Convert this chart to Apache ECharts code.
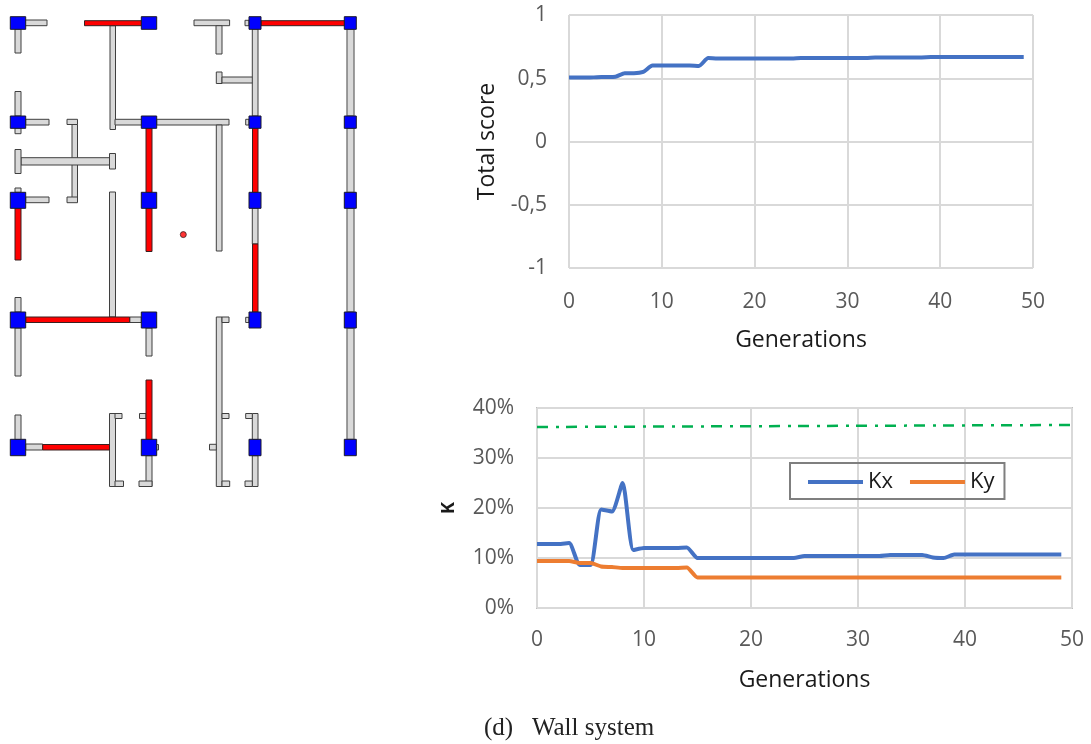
<!DOCTYPE html>
<html><head><meta charset="utf-8">
<style>html,body{margin:0;padding:0;background:#fff}#c{width:1091px;height:744px}</style>
<script src="https://cdn.jsdelivr.net/npm/echarts@6/dist/echarts.min.js"></script>
</head><body><div id="c"></div>
<script>
// Plan drawing: rectangles as [x0, y0, x1, y1] in plan units
const grayWalls = [
[25,20,47,25.7],[15,29,21,53],[110,25.7,115.5,129.5],[194,20,229.6,25.7],[216,25.7,222,54],
[216.3,72,222,83.5],[222,77,253,83],[15,91.5,21,116],[15,128,21,133.7],[25.7,119.3,49,125],
[67,119.3,77.5,124.5],[72,124.5,77.5,198],[67,197,77.5,202.7],[21,157.7,110,165],[15,149.5,21,173.5],
[109.5,153.5,115.5,169],[15,188,21,192.3],[25.7,197,49,202.7],[115,119.3,142,125],[156.7,119.3,229,125],
[216.3,125,222,251],[109.5,192,115.5,317],[245,20.3,249,25.7],[252.3,29,258,116],[245.7,119.3,249,125],
[252.3,208,258,244],[15,297.5,21,312],[15,328,21,376],[129.7,317,141.3,322.5],[146,328,152,356],
[15,415,21,439.5],[25.7,444,42.7,450],[109.5,413.5,115.5,486.5],[115,413.5,122,418.5],[115,481,123.5,486.5],
[139.5,413.5,146,418.5],[156.7,444.5,158.5,450],[146,455.7,152,486.5],[139,481,152,486.5],[216.3,317,222,486.5],
[222,317,229,322.5],[222,413.5,229,418.5],[209.5,444.3,216.3,450],[222,481,229.7,486.5],[245.7,317.3,249,322.5],
[252.3,413.5,258,439.5],[252.3,455.7,258,486.5],[245.7,413.5,252.3,418.5],[245,481,252.3,486.5]
];
const outerWalls = [[347,29,354,116],[347,128,354,192.5],[347,208,354,312],[347,328,354,439.5]];
const redWalls = [
[84.5,20.7,142,25.7],[15,208,21,260],[146,128,152,192.5],[146,208,152,251.5],[261,20.7,345,25.7],
[252.5,128,258,192.5],[252.5,244,258,312],[25.7,317,129.7,322.5],[146,380,152,439.5],[42.7,444.5,109.5,450]
];
const columnNodes = [
[10.3,16.7,25.7,29.3],[141.3,16.7,156.7,29.3],[249,16.7,261,29.3],[344.3,16.7,356.3,29.3],
[10.3,116,25.7,128.3],[141.3,116,156.7,128.3],[249,116,261,128.3],[344.3,116,356.3,128.3],
[10.3,192.3,25.7,208.3],[141.3,192.3,156.7,208.3],[249,192.3,261,208.3],[344.3,192.3,356.3,208.3],
[10.3,312,25.7,328],[141.3,312,156.7,328],[249,312,261,328],[344.3,312,356.3,328],
[10.3,439.3,25.7,455.7],[141.3,439.3,156.7,455.7],[249,439.3,261,455.7],[344.3,439.3,356.3,455.7]
];
const centerPoint = [[183.3,234.6]];

// Total score panel
const generations = [0,1,2,3,4,5,6,7,8,9,10,11,12,13,14,15,16,17,18,19,20,21,22,23,24,25,26,27,28,29,30,31,32,33,34,35,36,37,38,39,40,41,42,43,44,45,46,47,48,49];
const totalScore = [.505,.505,.505,.508,.51,.512,.54,.54,.55,.6,.6,.6,.6,.6,.597,.66,.657,.657,.657,.657,.657,.657,.657,.657,.657,.66,.66,.66,.66,.66,.66,.66,.66,.665,.665,.665,.665,.665,.665,.667,.667,.667,.667,.667,.667,.667,.667,.667,.667,.667];
const scoreTicks = {1:'1',0.5:'0,5',0:'0','-0.5':'-0,5','-1':'-1'};

// K panel (percent)
const kx = [12.8,12.8,12.8,13,8.6,8.6,19.7,19.3,25,11.6,12,12,12,12,12.1,10,10,10,10,10,10,10,10,10,10,10.4,10.4,10.4,10.4,10.4,10.4,10.4,10.4,10.6,10.6,10.6,10.6,10.1,10,10.7,10.7,10.7,10.7,10.7,10.7,10.7,10.7,10.7,10.7,10.7];
const ky = [9.4,9.4,9.4,9.4,9,9,8.3,8.2,8,8,8,8,8,8,8.1,6.1,6.1,6.1,6.1,6.1,6.1,6.1,6.1,6.1,6.1,6.1,6.1,6.1,6.1,6.1,6.1,6.1,6.1,6.1,6.1,6.1,6.1,6.1,6.1,6.1,6.1,6.1,6.1,6.1,6.1,6.1,6.1,6.1,6.1,6.1];
const kLimit = [[0,36.2],[50,36.6]];

const FONT = 'Open Sans';
const TICK = '#595959';
const pair = (xs, ys) => xs.map((x, i) => [x, ys[i]]);
function rectSeries(name, data, fill, stroke, lw, z) {
  return {
    name, type: 'custom', coordinateSystem: 'cartesian2d', xAxisIndex: 0, yAxisIndex: 0, z,
    silent: true, clip: false, encode: { x: [0, 2], y: [1, 3] }, data,
    renderItem(params, api) {
      const a = api.coord([api.value(0), api.value(1)]);
      const b = api.coord([api.value(2), api.value(3)]);
      return { type: 'rect', shape: { x: a[0], y: a[1], width: b[0] - a[0], height: b[1] - a[1] },
        style: { fill, stroke, lineWidth: lw } };
    }
  };
}
const valueAxisStyle = {
  axisLine: { show: false }, axisTick: { show: false },
  splitLine: { show: true, lineStyle: { color: '#d9d9d9', width: 2 } }
};
const hiddenAxis = (gridIndex, max, inverse) => ({ type: 'value', gridIndex, min: 0, max, inverse, show: false, splitLine: { show: false } });

const option = {
  animation: false, backgroundColor: '#fff',
  textStyle: { fontFamily: FONT },
  title: { text: '(d)   Wall system', left: 484, top: 716, padding: 0,
    textStyle: { fontFamily: 'Liberation Serif', fontSize: 25, fontWeight: 'normal', color: '#222' } },
  grid: [
    { left: 0, top: 0, width: 380, height: 500 },
    { left: 569, top: 15, width: 464, height: 253, show: false },
    { left: 537, top: 408, width: 535, height: 200, show: true, borderColor: '#bfbfbf', borderWidth: 2, backgroundColor: 'transparent' }
  ],
  xAxis: [
    hiddenAxis(0, 380, false),
    Object.assign({ type: 'value', gridIndex: 1, min: 0, max: 50, interval: 10,
      name: 'Generations', nameLocation: 'middle', nameGap: 61,
      nameTextStyle: { fontSize: 23, color: '#1a1a1a', fontFamily: FONT },
      axisLabel: { fontSize: 21, color: TICK, margin: 24 } }, valueAxisStyle),
    Object.assign({ type: 'value', gridIndex: 2, min: 0, max: 50, interval: 10,
      name: 'Generations', nameLocation: 'middle', nameGap: 61,
      nameTextStyle: { fontSize: 23, color: '#1a1a1a', fontFamily: FONT },
      axisLabel: { fontSize: 21, color: TICK, margin: 22 } }, valueAxisStyle)
  ],
  yAxis: [
    hiddenAxis(0, 500, true),
    Object.assign({ type: 'value', gridIndex: 1, min: -1, max: 1, interval: 0.5,
      name: 'Total score', nameLocation: 'middle', nameGap: 70, nameRotate: 90,
      nameTextStyle: { fontSize: 23, color: '#1a1a1a', fontFamily: FONT },
      axisLabel: { fontSize: 21, color: TICK, margin: 22, verticalAlign: 'top', padding: [-10, 0, 0, 0], formatter: v => scoreTicks[v] } }, valueAxisStyle),
    Object.assign({ type: 'value', gridIndex: 2, min: 0, max: 40, interval: 10,
      name: 'K', nameLocation: 'middle', nameGap: 79, nameRotate: 90,
      nameTextStyle: { fontSize: 18, fontWeight: 'bold', color: '#1a1a1a', fontFamily: FONT },
      axisLabel: { fontSize: 21, color: TICK, margin: 23, verticalAlign: 'top', padding: [-10, 0, 0, 0], formatter: v => v + '%' } }, valueAxisStyle)
  ],
  legend: {
    data: ['Kx', 'Ky'], left: 790, top: 463, width: 215, height: 38, orient: 'horizontal',
    padding: [8, 10, 6, 18], itemWidth: 55, itemHeight: 4, itemGap: 17, icon: 'rect',
    borderColor: '#7f7f7f', borderWidth: 2,
    textStyle: { fontSize: 22, color: '#1a1a1a', fontFamily: FONT }
  },
  series: [
    rectSeries('gray walls', grayWalls, '#d9d9d9', '#3f3f3f', 1, 2),
    rectSeries('outer walls', outerWalls, '#d9d9d9', '#777777', 1.4, 2),
    rectSeries('red walls', redWalls, '#ff0000', '#3a2020', 1, 3),
    rectSeries('nodes', columnNodes, '#0000ff', '#1a1a2a', 1, 4),
    { name: 'center', type: 'scatter', xAxisIndex: 0, yAxisIndex: 0, data: centerPoint, symbolSize: 6, silent: true,
      itemStyle: { color: '#ff0000', borderColor: '#3a2020', borderWidth: 1 }, z: 4 },
    { name: 'Total score', type: 'line', xAxisIndex: 1, yAxisIndex: 1, data: pair(generations, totalScore),
      symbol: 'none', smooth: 0.2, lineStyle: { color: '#4472c4', width: 4 }, itemStyle: { color: '#4472c4' }, z: 5 },
    { name: 'Kx', type: 'line', xAxisIndex: 2, yAxisIndex: 2, data: pair(generations, kx),
      symbol: 'none', smooth: 0.2, lineStyle: { color: '#4472c4', width: 4 }, itemStyle: { color: '#4472c4' }, z: 5 },
    { name: 'Ky', type: 'line', xAxisIndex: 2, yAxisIndex: 2, data: pair(generations, ky),
      symbol: 'none', smooth: 0.2, lineStyle: { color: '#ed7d31', width: 4 }, itemStyle: { color: '#ed7d31' }, z: 5 },
    { name: 'Limit', type: 'line', xAxisIndex: 2, yAxisIndex: 2, data: kLimit,
      symbol: 'none', lineStyle: { color: '#00b050', width: 2.5, type: [11, 8, 3, 7] }, itemStyle: { color: '#00b050' }, z: 5 }
  ]
};
echarts.init(document.getElementById('c'), null, { renderer: 'canvas' }).setOption(option);
</script></body></html>
